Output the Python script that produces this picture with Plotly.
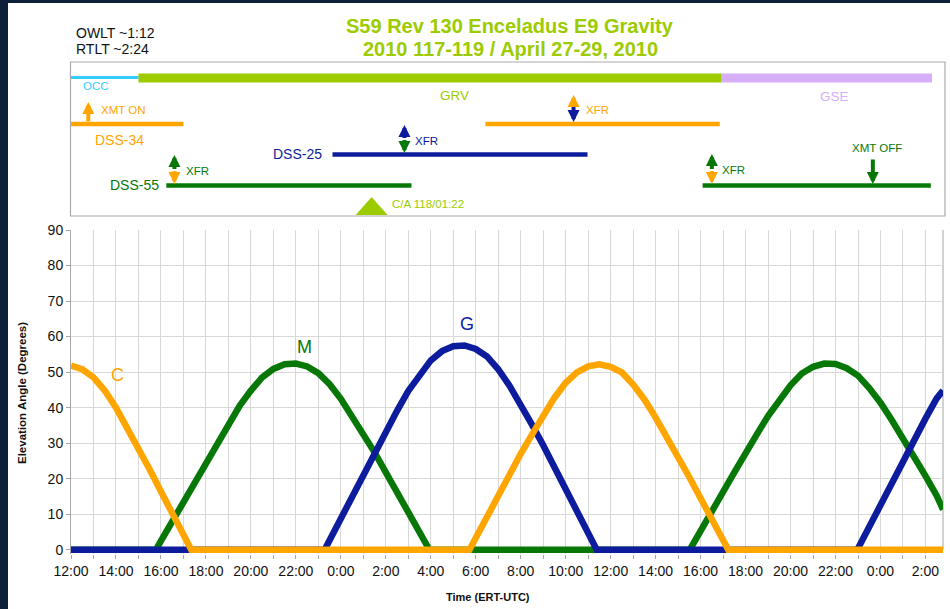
import pandas as pd
import plotly.graph_objects as go

BASE = pd.Timestamp("2010-04-27 12:00")
X_END_H = 38.78

# ---------------- elevation data (hours after 2010-04-27 12:00 ERT) ----------------
C_HOURS = [0, 0.5, 1, 1.5, 2, 2.5, 3, 3.5, 4, 4.5, 5, 5.35,
           17.72, 18, 18.5, 19, 19.5, 20, 20.5, 21, 21.5, 22, 22.5, 23, 23.5, 24,
           24.5, 25, 25.5, 26, 26.5, 27, 27.5, 28, 28.5, 29, 29.23, 38.78]
C_ELEV = [51.8, 50.8, 48.5, 44.8, 40.0, 34.5, 28.6, 22.6, 16.4, 10.3, 4.3, 0,
          0, 3.4, 9.3, 15.2, 21.1, 27.0, 32.4, 37.8, 42.8, 47.0, 49.9, 51.6, 52.2, 51.5,
          49.9, 46.5, 42.3, 37.2, 31.8, 26.3, 20.4, 14.5, 8.6, 2.7, 0, 0]

M_HOURS = [0, 3.78, 4, 4.5, 5, 5.5, 6, 6.5, 7, 7.5, 8, 8.5, 9, 9.5, 10, 10.5, 11, 11.5,
           12, 12.5, 13, 13.5, 14, 14.5, 15, 15.5, 15.94,
           27.52, 28, 28.5, 29, 29.5, 30, 30.5, 31, 31.5, 32, 32.5, 33, 33.5, 34, 34.5,
           35, 35.5, 36, 36.5, 37, 37.5, 38, 38.5, 38.78]
M_ELEV = [0, 0, 2.5, 8.0, 13.7, 19.3, 24.9, 30.3, 35.5, 40.5, 44.8, 48.5, 50.9, 52.2, 52.4,
          51.6, 49.7, 46.6, 42.5, 37.7, 32.6, 27.4, 21.8, 16.2, 10.6, 4.9, 0,
          0, 5.0, 10.9, 16.3, 21.8, 27.4, 32.5, 37.6, 42.3, 46.3, 49.6, 51.5, 52.4, 52.3,
          51.1, 49.0, 45.5, 41.4, 36.5, 31.4, 26.3, 20.8, 15.2, 11.3]

G_HOURS = [0, 11.28, 11.5, 12, 12.5, 13, 13.5, 14, 14.5, 15, 15.5, 16, 16.5, 17, 17.5,
           18, 18.5, 19, 19.5, 20, 20.5, 21, 21.5, 22, 22.5, 23, 23.38,
           34.97, 35.5, 36, 36.5, 37, 37.5, 38, 38.5, 38.78]
G_ELEV = [0, 0, 2.7, 8.9, 15.1, 21.3, 27.5, 33.4, 39.1, 44.7, 49.4, 53.3, 55.9, 57.3, 57.5,
          56.5, 54.4, 50.8, 46.2, 40.9, 35.2, 29.4, 23.3, 17.1, 10.9, 4.7, 0,
          0, 6.6, 12.7, 19.0, 25.2, 31.2, 36.9, 42.6, 44.8]

SERIES_NAMES = ["M", "G", "C"]
SERIES_LABEL_H = [10.38, 17.6, 2.06]
SERIES_LABEL_Y = [57.0, 63.5, 49.2]

# ---------------- timeline (sequence of events) ----------------
BAR_NAMES = ["OCC", "GRV", "GSE", "DSS-34", "DSS-34b", "DSS-25", "DSS-55", "DSS-55b"]
BAR_START = [0.0, 3.0, 28.94, 0.0, 18.43, 11.63, 4.24, 28.09]
BAR_END = [3.0, 28.94, 38.29, 5.0, 28.85, 22.97, 15.14, 38.24]

XFR_HOURS = [4.6, 14.83, 22.35, 28.5]
XMT_ON_H = 0.77
XMT_OFF_H = 35.66
CA_H = 13.37

# ---------------- styles ----------------
ORANGE = "#FFA500"
GREEN = "#077807"
BLUE = "#0C1C9C"
YG = "#9CCB00"
CYAN = "#33CCFF"
LAV = "#D6AEFA"
NAVY = "#0C2039"
FONT = "Liberation Sans, Arial, sans-serif"
SERIES_COLORS = {"M": GREEN, "G": BLUE, "C": ORANGE}


def T(h):
    return BASE + pd.Timedelta(hours=h)


def TS(hours):
    return [T(h) for h in hours]


# pixel layout helpers
W, H = 950, 609
ML, MR, MT, MB = 71, 7, 12, 55
PW = W - ML - MR
PH = H - MT - MB


def px(x):
    return (x - ML) / PW


def py(y):
    return 1 - (y - MT) / PH


fig = go.Figure()

series = {"C": (C_HOURS, C_ELEV), "M": (M_HOURS, M_ELEV), "G": (G_HOURS, G_ELEV)}
for name in SERIES_NAMES:
    hrs, el = series[name]
    fig.add_trace(go.Scatter(x=TS(hrs), y=el, mode="lines",
                             line=dict(color=SERIES_COLORS[name], width=6.5),
                             showlegend=False, hoverinfo="skip", xaxis="x", yaxis="y"))

# timeline bars
bar_style = {
    "OCC": (CYAN, 77.5, 3),
    "GRV": (YG, 78, 9),
    "GSE": (LAV, 78, 9),
    "DSS-34": (ORANGE, 124, 4.5),
    "DSS-34b": (ORANGE, 124, 4.5),
    "DSS-25": (BLUE, 154.5, 4.5),
    "DSS-55": (GREEN, 185.5, 4.5),
    "DSS-55b": (GREEN, 185.5, 4.5),
}
for n, s, e in zip(BAR_NAMES, BAR_START, BAR_END):
    col, yy, wd = bar_style[n]
    fig.add_trace(go.Scatter(x=[T(s), T(e)], y=[yy, yy], mode="lines",
                             line=dict(color=col, width=wd),
                             showlegend=False, hoverinfo="skip", xaxis="x2", yaxis="y2"))

# C/A triangle
fig.add_trace(go.Scatter(x=[T(CA_H - 0.71), T(CA_H), T(CA_H + 0.71), T(CA_H - 0.71)],
                         y=[215, 197, 215, 215], mode="lines", fill="toself",
                         fillcolor=YG, line=dict(color=YG, width=0),
                         showlegend=False, hoverinfo="skip", xaxis="x2", yaxis="y2"))

annotations = []


def arrow(h, head_y, tail_y, color):
    annotations.append(dict(x=T(h), y=head_y, ax=T(h), ay=tail_y, xref="x2", yref="y2",
                            axref="x2", ayref="y2", text="", showarrow=True,
                            arrowhead=2, arrowsize=0.6, arrowwidth=4, arrowcolor=color,
                            standoff=0, startstandoff=0))


def label(h, y, text, color, size=11.5, xanchor="center"):
    annotations.append(dict(x=T(h), y=y, xref="x2", yref="y2", text=text, showarrow=False,
                            xanchor=xanchor, yanchor="middle",
                            font=dict(family=FONT, size=size, color=color)))


def ptext(x, y, text, size, color, xanchor="center", angle=0):
    annotations.append(dict(x=px(x), y=py(y), xref="paper", yref="paper", text=text,
                            showarrow=False, xanchor=xanchor, yanchor="middle",
                            textangle=angle, font=dict(family=FONT, size=size, color=color)))


# XFR double arrows (top colour, bottom colour, top head, mid, bottom head)
xfr_style = [(GREEN, ORANGE, 155, 170, 184), (BLUE, GREEN, 125, 139, 153),
             (ORANGE, BLUE, 95, 106, 122), (GREEN, ORANGE, 154, 170, 184)]
for h, (ct, cb, yt, ym, yb) in zip(XFR_HOURS, xfr_style):
    arrow(h, yt, ym + 0.5, ct)
    arrow(h, yb, ym - 0.5, cb)
arrow(XMT_ON_H, 102, 123, ORANGE)
arrow(XMT_OFF_H, 184, 158, GREEN)

label(1.13, 86, "OCC", CYAN, 11.5)
label(17.06, 96, "GRV", YG, 13.5)
label(33.97, 97, "GSE", LAV, 13.5)
label(2.33, 110, "XMT ON", ORANGE)
label(2.15, 140, "DSS-34", ORANGE, 14)
label(23.42, 110, "XFR", ORANGE)
label(10.07, 154, "DSS-25", BLUE, 14)
label(15.81, 141, "XFR", BLUE)
label(2.82, 185, "DSS-55", GREEN, 14)
label(5.62, 171, "XFR", GREEN)
label(29.47, 170, "XFR", GREEN)
label(35.84, 148, "XMT OFF", GREEN)
label(CA_H + 0.8, 204, "C/A 118/01:22", YG, 11.5, xanchor="left")

# titles
ptext(510, 26, "<b>S59 Rev 130 Enceladus E9 Gravity</b>", 20, YG)
ptext(510, 49, "<b>2010 117-119 / April 27-29, 2010</b>", 20, YG)
ptext(74, 33, "OWLT ~1:12", 14, "#111111", xanchor="left")
ptext(74, 49, "RTLT ~2:24", 14, "#111111", xanchor="left")
# axis titles
ptext(488, 597, "<b>Time (ERT-UTC)</b>", 11, "#111111")
ptext(22, 393, "<b>Elevation Angle (Degrees)</b>", 11.5, "#111111", angle=-90)
# series labels
for n, h, y in zip(SERIES_NAMES, SERIES_LABEL_H, SERIES_LABEL_Y):
    annotations.append(dict(x=T(h), y=y, xref="x", yref="y", text=n, showarrow=False,
                            font=dict(family=FONT, size=18, color=SERIES_COLORS[n])))

shapes = [
    # timeline box
    dict(type="rect", xref="paper", yref="paper", x0=px(70.5), x1=px(945),
         y0=py(216), y1=py(62), line=dict(color="#AAAAAA", width=1.2), layer="below"),
    # zero axis line and right frame
    dict(type="line", xref="paper", yref="y", x0=0, x1=1, y0=0, y1=0,
         line=dict(color="#A6A6A6", width=1), layer="below"),
    dict(type="line", xref="paper", yref="y", x0=1, x1=1, y0=0, y1=90,
         line=dict(color="#A6A6A6", width=1), layer="below"),
    # dark page frame
    dict(type="rect", xref="paper", yref="paper", x0=px(0), x1=px(8), y0=py(H), y1=py(0),
         fillcolor=NAVY, line=dict(width=0)),
    dict(type="rect", xref="paper", yref="paper", x0=px(0), x1=px(W), y0=py(3), y1=py(0),
         fillcolor=NAVY, line=dict(width=0)),
]

xrange = [T(0), T(X_END_H)]
fig.update_layout(
    width=W, height=H,
    margin=dict(l=ML, r=MR, t=MT, b=MB, pad=0, autoexpand=False),
    paper_bgcolor="white", plot_bgcolor="white",
    showlegend=False,
    font=dict(family=FONT, size=14, color="#111111"),
    xaxis=dict(type="date", domain=[0, 1], anchor="y", range=xrange,
               tick0=T(0), dtick=2 * 3600 * 1000, tickformat="%-H:%M",
               showgrid=True, gridcolor="#D9D9D9", gridwidth=1,
               ticks="outside", ticklen=4, tickcolor="#A6A6A6",
               showline=False, zeroline=False, automargin=False,
               tickfont=dict(family=FONT, size=14, color="#111111"),
               minor=dict(dtick=3600 * 1000, tick0=T(0), showgrid=True, gridcolor="#D9D9D9",
                          gridwidth=1, ticks="outside", ticklen=4, tickcolor="#A6A6A6")),
    yaxis=dict(domain=[0, py(230)], anchor="x", range=[-1.2, 90],
               tickmode="array", tickvals=[0, 10, 20, 30, 40, 50, 60, 70, 80, 90],
               showgrid=True, gridcolor="#D9D9D9", gridwidth=1,
               ticks="outside", ticklen=4, tickcolor="#A6A6A6",
               showline=True, linecolor="#A6A6A6", linewidth=1, zeroline=False,
               automargin=False,
               tickfont=dict(family=FONT, size=14, color="#111111")),
    xaxis2=dict(type="date", domain=[0, 1], anchor="y2", range=xrange, visible=False),
    yaxis2=dict(domain=[py(216), py(62)], anchor="x2", range=[216, 62], visible=False),
    annotations=annotations,
    shapes=shapes,
)

fig.write_html("out.html")
